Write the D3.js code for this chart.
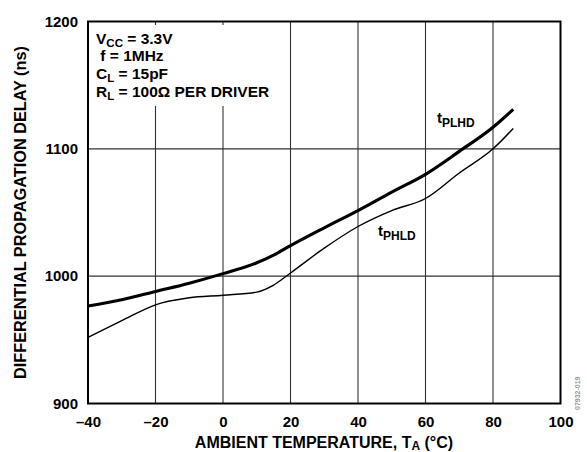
<!DOCTYPE html>
<html>
<head>
<meta charset="utf-8">
<script src="https://cdn.jsdelivr.net/npm/d3@7"></script>
<style>
  html, body { margin: 0; padding: 0; background: #fff; }
  svg { display: block; }
  text { font-family: "Liberation Sans", Arial, sans-serif; font-weight: bold; fill: #000; }
</style>
</head>
<body>
<svg id="chart" width="587" height="452"></svg>
<script>
// Ambient temperature sample points (°C)
const temps = [-40, -30, -20, -10, 0, 10, 15, 20, 30, 40, 50, 60, 70, 80, 86];
// Low-to-high propagation delay (ns)
const tPLHD = [976.5, 981.5, 988, 994.5, 1002, 1010.5, 1016.5, 1024, 1038, 1051.5, 1066, 1080, 1098, 1117, 1131];
// High-to-low propagation delay (ns)
const tPHLD = [952, 965, 977.5, 983, 985, 987.5, 993, 1002.5, 1022, 1039, 1051.5, 1061, 1081, 1100, 1116];

const xTicks = [-40, -20, 0, 20, 40, 60, 80, 100];
const yTicks = [900, 1000, 1100, 1200];

const FONT = "Liberation Sans, Arial, sans-serif";
const svg = d3.select("#chart");
const plotL = 88, plotR = 560.5, plotT = 21.5, plotB = 403.5;

const x = d3.scaleLinear().domain([-40, 100]).range([plotL, plotR]);
const y = d3.scaleLinear().domain([900, 1200]).range([plotB, plotT]);

// grid
const grid = svg.append("g").attr("stroke", "#333").attr("stroke-width", 1.1);
grid.selectAll("line.v").data(xTicks.slice(1, -1)).join("line")
  .attr("x1", d => x(d)).attr("x2", d => x(d))
  .attr("y1", plotT).attr("y2", plotB);
grid.selectAll("line.h").data(yTicks.slice(1, -1)).join("line")
  .attr("x1", plotL).attr("x2", plotR)
  .attr("y1", d => y(d)).attr("y2", d => y(d));

// blank panel behind the conditions text
svg.append("rect").attr("x", plotL + 1).attr("y", plotT + 3.5)
  .attr("width", 192).attr("height", 81).attr("fill", "#fff");

// curves
const line = vals => d3.line()
  .x((d, i) => x(temps[i])).y(d => y(d))
  .curve(d3.curveMonotoneX)(vals);

svg.append("path").attr("d", line(tPHLD))
  .attr("fill", "none").attr("stroke", "#000").attr("stroke-width", 1.4);
svg.append("path").attr("d", line(tPLHD))
  .attr("fill", "none").attr("stroke", "#000").attr("stroke-width", 3.1);

// frame
svg.append("rect").attr("x", plotL).attr("y", plotT)
  .attr("width", plotR - plotL).attr("height", plotB - plotT)
  .attr("fill", "none").attr("stroke", "#000").attr("stroke-width", 2);

// axes (labels only)
const xAxis = d3.axisBottom(x).tickValues(xTicks).tickSize(0).tickPadding(12.5)
  .tickFormat(d => d < 0 ? "\u2013" + Math.abs(d) : d);
const gx = svg.append("g").attr("transform", `translate(0,${plotB})`).call(xAxis);
gx.select(".domain").remove();
gx.selectAll("text").attr("font-size", 15).attr("font-family", FONT).attr("font-weight", "bold");

const yAxis = d3.axisLeft(y).tickValues(yTicks).tickSize(0).tickPadding(10)
  .tickFormat(d3.format("d"));
const gy = svg.append("g").attr("transform", `translate(${plotL},0)`).call(yAxis);
gy.select(".domain").remove();
gy.selectAll("text").attr("font-size", 15).attr("font-family", FONT).attr("font-weight", "bold");

// axis titles
const xt = svg.append("text").attr("x", 324).attr("y", 447.5).attr("text-anchor", "middle").attr("font-size", 16);
xt.append("tspan").text("AMBIENT TEMPERATURE, T");
xt.append("tspan").attr("font-size", 12).attr("dy", 2.5).text("A");
xt.append("tspan").attr("dy", -2.5).text(" (°C)");

svg.append("text").attr("transform", "translate(26,212.5) rotate(-90)")
  .attr("text-anchor", "middle").attr("font-size", 16.3)
  .text("DIFFERENTIAL PROPAGATION DELAY (ns)");

// conditions
const cond = [
  ["V", "CC", " = 3.3V"],
  [" f = 1MHz", "", ""],
  ["C", "L", " = 15pF"],
  ["R", "L", " = 100Ω PER DRIVER"]
];
cond.forEach((c, i) => {
  const t = svg.append("text").attr("x", 96).attr("y", 43.5 + i * 17.7).attr("font-size", 15.5)
    .attr("xml:space", "preserve");
  t.append("tspan").text(c[0]);
  if (c[1]) {
    t.append("tspan").attr("font-size", 11.5).attr("dy", 3).text(c[1]);
    t.append("tspan").attr("dy", -3).text(c[2]);
  }
});

// series labels
function seriesLabel(px, py, sub) {
  const t = svg.append("text").attr("x", px).attr("y", py).attr("font-size", 15);
  t.append("tspan").text("t");
  t.append("tspan").attr("font-size", 12).attr("dy", 4).text(sub);
}
seriesLabel(437, 123, "PLHD");
seriesLabel(378, 236, "PHLD");

// figure number
svg.append("text").attr("transform", "translate(580,410) rotate(-90)")
  .attr("font-size", 7).attr("font-weight", "normal").style("fill", "#999")
  .text("07932-019");
</script>
</body>
</html>
